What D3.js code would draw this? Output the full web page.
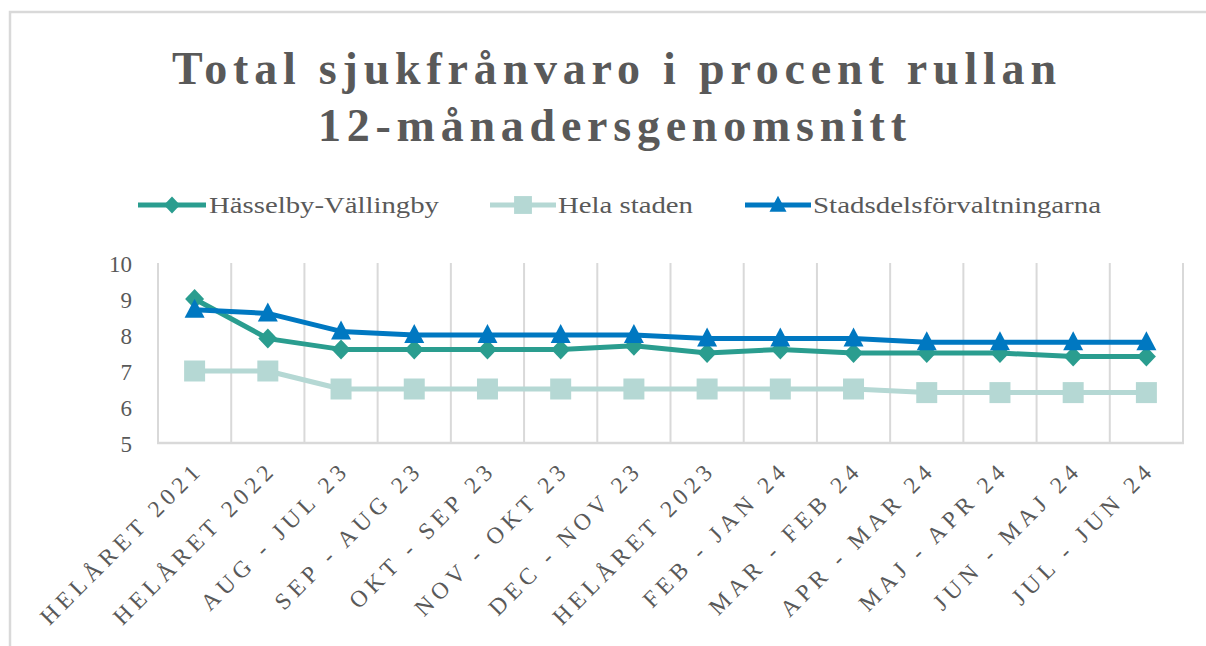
<!DOCTYPE html>
<html>
<head>
<meta charset="utf-8">
<script src="https://cdn.jsdelivr.net/npm/d3@7"></script>
<style>
  html, body { margin: 0; padding: 0; background: #fff; }
  svg { display: block; }
  svg text { font-family: "Liberation Serif", "Times New Roman", serif !important; fill: #595959; }
</style>
</head>
<body>
<svg id="chart" width="1206" height="646"></svg>
<script>
// Period labels along the category axis
const categories = [
  "HELÅRET 2021", "HELÅRET 2022", "AUG - JUL 23", "SEP - AUG 23",
  "OKT - SEP 23", "NOV - OKT 23", "DEC - NOV 23", "HELÅRET 2023",
  "FEB - JAN 24", "MAR - FEB 24", "APR - MAR 24", "MAJ - APR 24",
  "JUN - MAJ 24", "JUL - JUN 24"
];

// Sick leave, percent, rolling 12-month average
const hasselbyVallingby = [9.0, 7.9, 7.6, 7.6, 7.6, 7.6, 7.7, 7.5, 7.6, 7.5, 7.5, 7.5, 7.4, 7.4];
const helaStaden        = [7.0, 7.0, 6.5, 6.5, 6.5, 6.5, 6.5, 6.5, 6.5, 6.5, 6.4, 6.4, 6.4, 6.4];
const stadsdelsforv     = [8.7, 8.6, 8.1, 8.0, 8.0, 8.0, 8.0, 7.9, 7.9, 7.9, 7.8, 7.8, 7.8, 7.8];

const seriesNames = ["Hässelby-Vällingby", "Hela staden", "Stadsdelsförvaltningarna"];
const yTicks = [5, 6, 7, 8, 9, 10];

const titleLines = ["Total sjukfrånvaro i procent rullan", "12-månadersgenomsnitt"];

const series = [
  { name: seriesNames[0], values: hasselbyVallingby, color: "#2A9D8F", marker: "diamond" },
  { name: seriesNames[1], values: helaStaden,        color: "#B5D8D4", marker: "square" },
  { name: seriesNames[2], values: stadsdelsforv,     color: "#0078C1", marker: "triangle" }
];

const svg = d3.select("#chart");
const grid = "#D9D9D9";
const serif = "'Liberation Serif', 'Times New Roman', serif";

// chart frame
svg.append("path")
  .attr("d", "M10,646 L10,12 L1206,12")
  .attr("fill", "none").attr("stroke", grid).attr("stroke-width", 2.5);

// title
const titleLayout = [
  { y: 84, x0: 172, x1: 1056 },
  { y: 141, x0: 318, x1: 906 }
];
titleLines.forEach((t, i) => {
  const L = titleLayout[i];
  svg.append("text")
    .attr("x", L.x0).attr("y", L.y)
    .attr("font-size", 46).attr("font-weight", "bold")
    .attr("textLength", L.x1 - L.x0).attr("lengthAdjust", "spacing")
    .text(t);
});

// scales
const plot = { left: 158, right: 1183, top: 263, bottom: 443 };
const x = d3.scaleBand().domain(categories).range([plot.left, plot.right]).padding(0);
const cx = c => x(c) + x.bandwidth() / 2;
const y = d3.scaleLinear().domain([5, 10]).range([plot.bottom, plot.top]);

// vertical gridlines at category boundaries
const edges = categories.map(c => x(c)).concat([plot.right]);
svg.append("g").selectAll("line").data(edges).join("line")
  .attr("x1", d => d).attr("x2", d => d)
  .attr("y1", plot.top).attr("y2", plot.bottom)
  .attr("stroke", grid).attr("stroke-width", 2);

// category axis baseline
svg.append("line")
  .attr("x1", plot.left - 1).attr("x2", plot.right + 1)
  .attr("y1", plot.bottom).attr("y2", plot.bottom)
  .attr("stroke", grid).attr("stroke-width", 2.5);

// value axis labels
const yAxis = svg.append("g")
  .attr("transform", `translate(${plot.left - 26},0)`)
  .call(d3.axisLeft(y).tickValues(yTicks).tickSize(0).tickPadding(0).tickFormat(d3.format("d")));
yAxis.attr("font-family", null).attr("font-size", null);
yAxis.select(".domain").remove();
yAxis.selectAll("text")
  .style("font-family", serif)
  .style("font-size", "23px")
  .attr("fill", "#595959")
  .attr("text-anchor", "end")
  .attr("dy", "0.35em");

// rotated category labels
svg.append("g").selectAll("text").data(categories).join("text")
  .attr("transform", d => `translate(${cx(d) + 10},${471}) rotate(-45)`)
  .attr("text-anchor", "end")
  .attr("font-size", 23.5)
  .attr("letter-spacing", "5px")
  .text(d => d);

// marker shapes
function markerD(kind) {
  if (kind === "diamond") return "M0,-10 L9.5,0 L0,10 L-9.5,0 Z";
  if (kind === "square") return "M-10.5,-10.5 H10.5 V10.5 H-10.5 Z";
  return "M0,-11 L10,8 L-10,8 Z";
}

const line = d3.line().x((d, i) => cx(categories[i])).y(d => y(d));

series.forEach(s => {
  const g = svg.append("g");
  g.append("path")
    .attr("d", line(s.values))
    .attr("fill", "none")
    .attr("stroke", s.color)
    .attr("stroke-width", 5)
    .attr("stroke-linejoin", "round");
  g.selectAll("path.m").data(s.values).join("path")
    .attr("class", "m")
    .attr("transform", (d, i) => `translate(${cx(categories[i])},${y(d)})`)
    .attr("d", markerD(s.marker))
    .attr("fill", s.color);
});

// legend
const legendLayout = [
  { x0: 138, x1: 206, tx: 209, tw: 230 },
  { x0: 490, x1: 556, tx: 558, tw: 135 },
  { x0: 745, x1: 811, tx: 813, tw: 288 }
];
const legendY = 205;
series.forEach((s, i) => {
  const L = legendLayout[i];
  const g = svg.append("g");
  g.append("line")
    .attr("x1", L.x0).attr("x2", L.x1)
    .attr("y1", legendY).attr("y2", legendY)
    .attr("stroke", s.color).attr("stroke-width", 5);
  g.append("path")
    .attr("transform", `translate(${(L.x0 + L.x1) / 2},${legendY}) scale(0.85)`)
    .attr("d", markerD(s.marker))
    .attr("fill", s.color);
  g.append("text")
    .attr("x", L.tx).attr("y", legendY + 8)
    .attr("font-size", 23)
    .attr("textLength", L.tw).attr("lengthAdjust", "spacingAndGlyphs")
    .text(s.name);
});
</script>
</body>
</html>
